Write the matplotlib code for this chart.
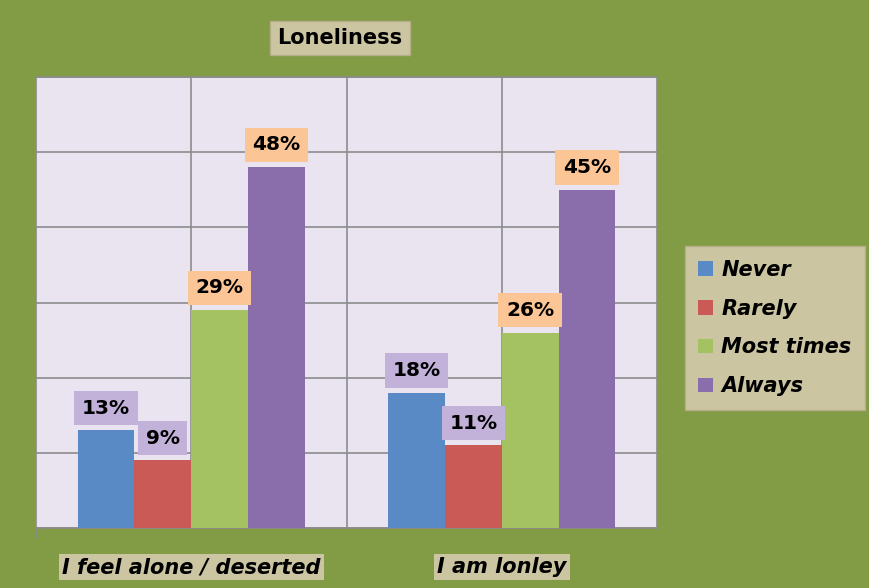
import matplotlib.pyplot as plt
import numpy as np

categories = ['I feel alone / deserted', 'I am lonley']
series = ['Never', 'Rarely', 'Most times', 'Always']
never = [13, 18]
rarely = [9, 11]
most_times = [29, 26]
always = [48, 45]

colors = ['#5a8ac6', '#c95a56', '#a5c262', '#8a6dab']
box_colors = ['#c2b2d9', '#c2b2d9', '#fbc596', '#fbc596']
bg = '#819c45'
tan = '#cbc5a1'


def main():
    fig = plt.figure(figsize=(8.69, 5.88), dpi=100, facecolor=bg)
    ax = fig.add_axes([36 / 869, 60 / 588, (657 - 36) / 869, (528 - 77) / 588])
    ax.set_facecolor('#e9e4ef')

    x = np.arange(len(categories))
    w = 0.183
    data = [never, rarely, most_times, always]
    for i, vals in enumerate(data):
        pos = x + (i - 1.5) * w
        bars = ax.bar(pos, vals, w, color=colors[i], label=series[i], zorder=3,
                      linewidth=0)
        for b, v in zip(bars, vals):
            ax.annotate(f'{v}%', (b.get_x() + b.get_width() / 2, v),
                        xytext=(0, 16), textcoords='offset points',
                        ha='center', va='center', fontsize=14.5, fontweight='bold',
                        color='black', zorder=5,
                        bbox=dict(boxstyle='square,pad=0.38', fc=box_colors[i], ec='none'))

    ax.set_xlim(-0.5, 1.5)
    ax.set_ylim(0, 60)
    ax.set_yticks(np.arange(0, 61, 10))
    ax.set_yticklabels([])
    ax.tick_params(axis='y', length=0)
    ax.yaxis.grid(True, color='#8c8c8c', linewidth=1.2, zorder=1)
    for xv in [0, 0.5, 1]:
        ax.axvline(xv, color='#8c8c8c', linewidth=1.2, zorder=1)

    ax.set_xticks(x)
    ax.set_xticklabels(categories, fontsize=15, fontweight='bold', style='italic')
    for lab in ax.get_xticklabels():
        lab.set_bbox(dict(boxstyle='square,pad=0.15', fc=tan, ec='none'))
    ax.tick_params(axis='x', length=0, pad=21)
    ax.set_xticks([-0.5, 0.5, 1.5], minor=True)
    ax.tick_params(axis='x', which='minor', length=7, color='#8c8c8c', direction='out')

    for s in ax.spines.values():
        s.set_color('#8c8c8c')
        s.set_linewidth(1.2)

    fig.text(340 / 869, 1 - 38 / 588, 'Loneliness', ha='center', va='center',
             fontsize=15, fontweight='bold',
             bbox=dict(boxstyle='square,pad=0.35', fc=tan, ec='#b5ae88'))

    leg = fig.legend(loc='center', bbox_to_anchor=(775 / 869, 1 - 328 / 588),
                     frameon=True, fancybox=False, handlelength=0.7, handleheight=0.7,
                     labelspacing=0.9, borderpad=0.65, handletextpad=0.4,
                     prop={'size': 15, 'weight': 'bold', 'style': 'italic'})
    leg.get_frame().set_facecolor(tan)
    leg.get_frame().set_edgecolor('#b5ae88')
    leg.get_frame().set_alpha(1)

    plt.savefig('out.png', dpi=100, facecolor=bg)


if __name__ == '__main__':
    main()
